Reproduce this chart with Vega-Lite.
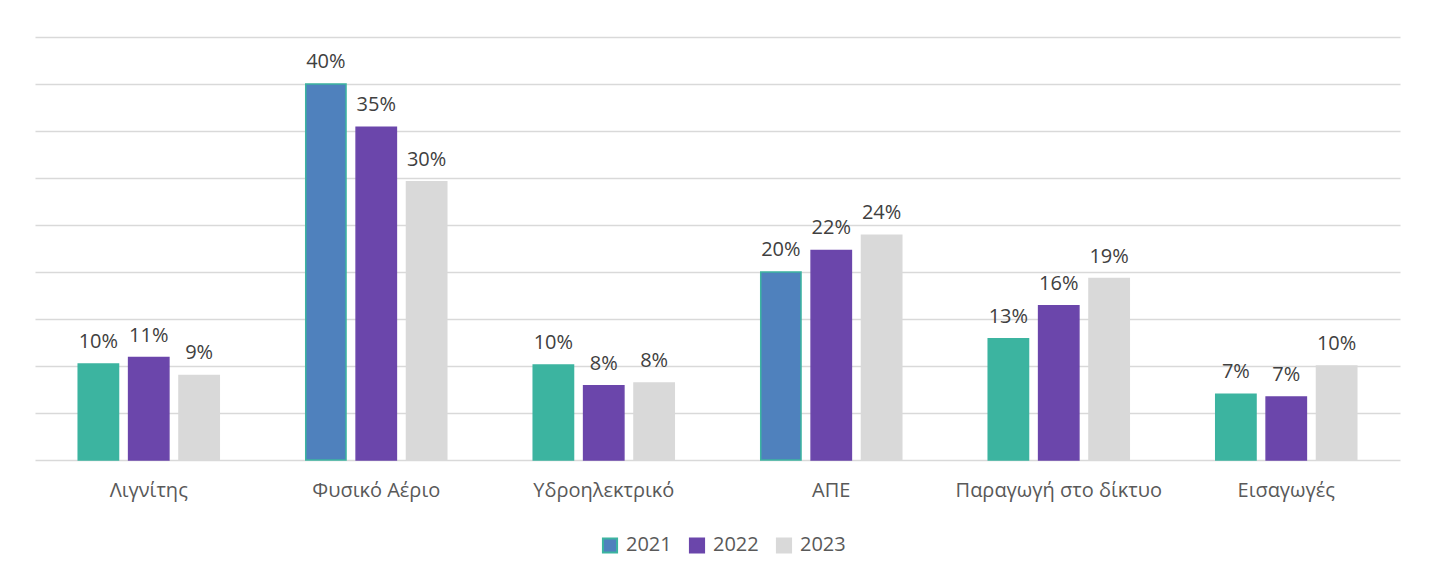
{
  "$schema": "https://vega.github.io/schema/vega-lite/v6.json",
  "width": 1365,
  "height": 423,
  "autosize": {"type": "none"},
  "padding": {"left": 35, "top": 37, "right": 37, "bottom": 120},
  "background": "#ffffff",
  "config": {
    "view": {"stroke": null},
    "font": "Open Sans",
    "axis": {"labelFont": "Open Sans", "labelFontSize": 20, "labelColor": "#595959"},
    "legend": {"labelFont": "Open Sans", "labelFontSize": 20, "labelColor": "#595959"}
  },
  "data": {
    "values": [
      {"category": "Λιγνίτης", "year": "2021", "value": 0.102},
      {"category": "Λιγνίτης", "year": "2022", "value": 0.109},
      {"category": "Λιγνίτης", "year": "2023", "value": 0.090},
      {"category": "Φυσικό Αέριο", "year": "2021", "value": 0.400},
      {"category": "Φυσικό Αέριο", "year": "2022", "value": 0.354},
      {"category": "Φυσικό Αέριο", "year": "2023", "value": 0.296},
      {"category": "Υδροηλεκτρικό", "year": "2021", "value": 0.101},
      {"category": "Υδροηλεκτρικό", "year": "2022", "value": 0.079},
      {"category": "Υδροηλεκτρικό", "year": "2023", "value": 0.082},
      {"category": "ΑΠΕ", "year": "2021", "value": 0.200},
      {"category": "ΑΠΕ", "year": "2022", "value": 0.223},
      {"category": "ΑΠΕ", "year": "2023", "value": 0.239},
      {"category": "Παραγωγή στο δίκτυο", "year": "2021", "value": 0.129},
      {"category": "Παραγωγή στο δίκτυο", "year": "2022", "value": 0.164},
      {"category": "Παραγωγή στο δίκτυο", "year": "2023", "value": 0.193},
      {"category": "Εισαγωγές", "year": "2021", "value": 0.070},
      {"category": "Εισαγωγές", "year": "2022", "value": 0.067},
      {"category": "Εισαγωγές", "year": "2023", "value": 0.100}
    ]
  },
  "encoding": {
    "x": {
      "field": "category", "type": "nominal", "sort": null,
      "scale": {"paddingInner": 0.38, "paddingOuter": 0.19},
      "axis": {"title": null, "labelAngle": 0, "ticks": false, "domainColor": "#d9d9d9", "domainWidth": 1.5, "labelPadding": 20, "labelLimit": 0, "grid": false}
    },
    "xOffset": {"field": "year", "type": "nominal", "scale": {"paddingInner": 0.2, "paddingOuter": 0}},
    "y": {
      "field": "value", "type": "quantitative",
      "scale": {"domain": [0, 0.45], "nice": false},
      "axis": {"title": null, "labels": false, "ticks": false, "domain": false, "grid": true, "gridColor": "#d9d9d9", "gridWidth": 1.5,
        "values": [0.05, 0.1, 0.15, 0.2, 0.25, 0.3, 0.35, 0.4, 0.45]}
    }
  },
  "layer": [
    {
      "mark": {"type": "bar", "strokeWidth": 1.5},
      "encoding": {
        "fill": {
          "condition": {"test": "datum.year === '2021' && datum.category !== 'Φυσικό Αέριο' && datum.category !== 'ΑΠΕ'", "value": "#3cb4a0"},
          "field": "year", "type": "nominal",
          "scale": {"domain": ["2021", "2022", "2023"], "range": ["#4f81bd", "#6b46ab", "#d9d9d9"]},
          "legend": {"title": null, "orient": "none", "legendX": 565, "legendY": 498, "direction": "horizontal", "symbolType": "square", "symbolSize": 200, "symbolStrokeWidth": 2, "columnPadding": 13, "labelOffset": 6}
        },
        "stroke": {
          "field": "year", "type": "nominal",
          "scale": {"domain": ["2021", "2022", "2023"], "range": ["#3cb4a0", "#6b46ab", "#d9d9d9"]},
          "legend": {"title": null, "orient": "none", "legendX": 565, "legendY": 498, "direction": "horizontal", "symbolType": "square", "symbolSize": 200, "symbolStrokeWidth": 2, "columnPadding": 13, "labelOffset": 6}
        }
      }
    },
    {
      "mark": {"type": "text", "baseline": "bottom", "dy": -12, "fontSize": 20, "font": "Open Sans", "color": "#404040"},
      "encoding": {
        "text": {"field": "value", "type": "quantitative", "format": ".0%"}
      }
    }
  ]
}
